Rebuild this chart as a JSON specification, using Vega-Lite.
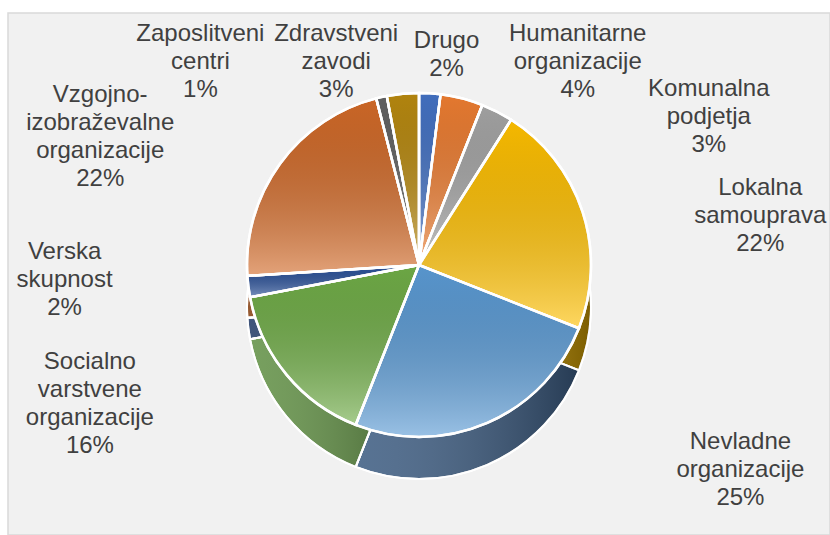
{
  "$schema": "https://vega.github.io/schema/vega-lite/v6.json",
  "width": 822,
  "height": 522,
  "autosize": {"type": "none"},
  "padding": {"left": 8, "top": 13, "right": 0, "bottom": 0},
  "background": "#ffffff",
  "view": {"fill": "#f1f1f1", "stroke": "#d9d9d9", "strokeWidth": 1.5},
  "config": {
    "view": {"fill": "#f1f1f1", "stroke": "#d9d9d9", "strokeWidth": 1.5},
    "text": {"font": "Liberation Sans", "fontSize": 24, "color": "#404040", "lineBreak": "\n", "lineHeight": 28, "align": "center", "baseline": "middle"}
  },
  "data": {
    "values": [
      {"category": "Drugo", "name": "Drugo", "value": 2},
      {"category": "Humanitarne organizacije", "name": "Humanitarne\norganizacije", "value": 4},
      {"category": "Komunalna podjetja", "name": "Komunalna\npodjetja", "value": 3},
      {"category": "Lokalna samouprava", "name": "Lokalna\nsamouprava", "value": 22},
      {"category": "Nevladne organizacije", "name": "Nevladne\norganizacije", "value": 25},
      {"category": "Socialno varstvene organizacije", "name": "Socialno\nvarstvene\norganizacije", "value": 16},
      {"category": "Verska skupnost", "name": "Verska\nskupnost", "value": 2},
      {"category": "Vzgojno-izobraževalne organizacije", "name": "Vzgojno-\nizobraževalne\norganizacije", "value": 22},
      {"category": "Zaposlitveni centri", "name": "Zaposlitveni\ncentri", "value": 1},
      {"category": "Zdravstveni zavodi", "name": "Zdravstveni\nzavodi", "value": 3}
    ]
  },
  "transform": [
    {"stack": "value", "groupby": [], "sort": [{"field": "category", "order": "ascending"}], "as": ["v0", "v1"]},
    {"calculate": "(datum.v0 + datum.v1) / 2", "as": "mid"},
    {"calculate": "datum.name + '\\n' + datum.value + '%'", "as": "label"}
  ],
  "resolve": {"scale": {"color": "independent"}},
  "layer": [
    {
      "mark": {"type": "arc", "outerRadius": 172, "yOffset": 33, "stroke": "#ffffff", "strokeWidth": 2},
      "encoding": {
        "theta": {"field": "v0", "type": "quantitative", "scale": {"domain": [0, 100]}},
        "theta2": {"field": "v1"},
        "color": {
          "field": "category", "type": "nominal", "legend": null,
          "scale": {
            "domain": ["Drugo", "Humanitarne organizacije", "Komunalna podjetja", "Lokalna samouprava", "Nevladne organizacije", "Socialno varstvene organizacije", "Verska skupnost", "Vzgojno-izobraževalne organizacije", "Zaposlitveni centri", "Zdravstveni zavodi"],
            "range": ["#2f5597", "#b35a1f", "#7b7b7b", "#bf9000", "#3a5a80", "#5f8f42", "#1f3864", "#843c0c", "#404040", "#7f6000"]
          }
        }
      }
    },
    {
      "mark": {
        "type": "arc", "outerRadius": 172, "yOffset": 33, "stroke": "#ffffff", "strokeWidth": 2,
        "fill": {"gradient": "linear", "x1": 0, "y1": 0, "x2": 1, "y2": 0, "stops": [{"offset": 0, "color": "rgba(255,255,255,0.15)"}, {"offset": 1, "color": "rgba(0,0,0,0.35)"}]}
      },
      "encoding": {
        "theta": {"field": "v0", "type": "quantitative", "scale": {"domain": [0, 100]}},
        "theta2": {"field": "v1"}
      }
    },
    {
      "mark": {"type": "arc", "outerRadius": 172, "yOffset": -9, "stroke": "#ffffff", "strokeWidth": 2.5},
      "encoding": {
        "theta": {"field": "v0", "type": "quantitative", "scale": {"domain": [0, 100]}},
        "theta2": {"field": "v1"},
        "color": {
          "field": "category", "type": "nominal", "legend": null,
          "scale": {
            "domain": ["Drugo", "Humanitarne organizacije", "Komunalna podjetja", "Lokalna samouprava", "Nevladne organizacije", "Socialno varstvene organizacije", "Verska skupnost", "Vzgojno-izobraževalne organizacije", "Zaposlitveni centri", "Zdravstveni zavodi"],
            "range": ["#4472c4", "#ed7d31", "#a5a5a5", "#ffc000", "#5b9bd5", "#70ad47", "#2b529a", "#d26a28", "#636363", "#b8890f"]
          }
        }
      }
    },
    {
      "mark": {
        "type": "arc", "outerRadius": 172, "yOffset": -9, "stroke": "#ffffff", "strokeWidth": 2.5,
        "fill": {"gradient": "linear", "x1": 0, "y1": 0, "x2": 0, "y2": 1, "stops": [{"offset": 0, "color": "rgba(0,0,0,0.04)"}, {"offset": 1, "color": "rgba(255,255,255,0.38)"}]}
      },
      "encoding": {
        "theta": {"field": "v0", "type": "quantitative", "scale": {"domain": [0, 100]}},
        "theta2": {"field": "v1"}
      }
    },
    {"transform": [{"filter": "datum.category === 'Drugo'"}], "mark": {"type": "text", "radius": 200, "dx": 15, "dy": -33}, "encoding": {"theta": {"field": "mid", "type": "quantitative", "scale": {"domain": [0, 100]}}, "text": {"field": "label"}}},
    {"transform": [{"filter": "datum.category === 'Humanitarne organizacije'"}], "mark": {"type": "text", "radius": 200, "dx": 109, "dy": -46}, "encoding": {"theta": {"field": "mid", "type": "quantitative", "scale": {"domain": [0, 100]}}, "text": {"field": "label"}}},
    {"transform": [{"filter": "datum.category === 'Komunalna podjetja'"}], "mark": {"type": "text", "radius": 200, "dx": 199, "dy": -7}, "encoding": {"theta": {"field": "mid", "type": "quantitative", "scale": {"domain": [0, 100]}}, "text": {"field": "label"}}},
    {"transform": [{"filter": "datum.category === 'Lokalna samouprava'"}], "mark": {"type": "text", "radius": 200, "dx": 151, "dy": -24}, "encoding": {"theta": {"field": "mid", "type": "quantitative", "scale": {"domain": [0, 100]}}, "text": {"field": "label"}}},
    {"transform": [{"filter": "datum.category === 'Nevladne organizacije'"}], "mark": {"type": "text", "radius": 200, "dx": 242, "dy": -16}, "encoding": {"theta": {"field": "mid", "type": "quantitative", "scale": {"domain": [0, 100]}}, "text": {"field": "label"}}},
    {"transform": [{"filter": "datum.category === 'Socialno varstvene organizacije'"}], "mark": {"type": "text", "radius": 200, "dx": -175, "dy": -39}, "encoding": {"theta": {"field": "mid", "type": "quantitative", "scale": {"domain": [0, 100]}}, "text": {"field": "label"}}},
    {"transform": [{"filter": "datum.category === 'Verska skupnost'"}], "mark": {"type": "text", "radius": 200, "dx": -156, "dy": -47}, "encoding": {"theta": {"field": "mid", "type": "quantitative", "scale": {"domain": [0, 100]}}, "text": {"field": "label"}}},
    {"transform": [{"filter": "datum.category === 'Vzgojno-izobraževalne organizacije'"}], "mark": {"type": "text", "radius": 200, "dx": -157, "dy": -61}, "encoding": {"theta": {"field": "mid", "type": "quantitative", "scale": {"domain": [0, 100]}}, "text": {"field": "label"}}},
    {"transform": [{"filter": "datum.category === 'Zaposlitveni centri'"}], "mark": {"type": "text", "radius": 200, "dx": -175, "dy": -45}, "encoding": {"theta": {"field": "mid", "type": "quantitative", "scale": {"domain": [0, 100]}}, "text": {"field": "label"}}},
    {"transform": [{"filter": "datum.category === 'Zdravstveni zavodi'"}], "mark": {"type": "text", "radius": 200, "dx": -64, "dy": -41}, "encoding": {"theta": {"field": "mid", "type": "quantitative", "scale": {"domain": [0, 100]}}, "text": {"field": "label"}}}
  ]
}
